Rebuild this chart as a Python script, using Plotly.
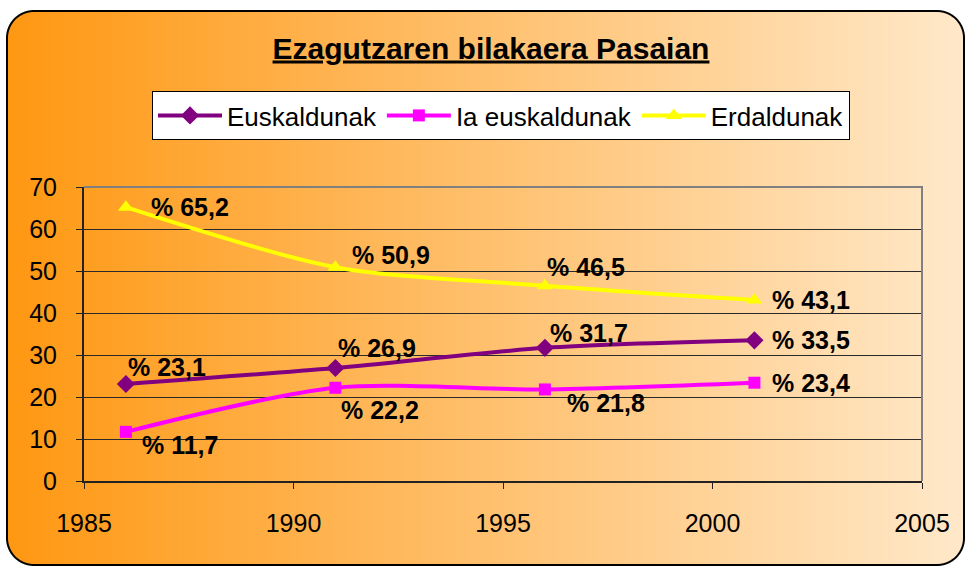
import base64
import struct
import zlib

import numpy as np
import plotly.graph_objects as go

# ---------------- data ----------------
years = [1986, 1991, 1996, 2001]
euskaldunak = [23.1, 26.9, 31.7, 33.5]
ia_euskaldunak = [11.7, 22.2, 21.8, 23.4]
erdaldunak = [65.2, 50.9, 46.5, 43.1]
series_names = ["Euskaldunak", "Ia euskaldunak", "Erdaldunak"]
title_text = "Ezagutzaren bilakaera Pasaian"
x_ticks = [1985, 1990, 1995, 2000, 2005]
y_ticks = [0, 10, 20, 30, 40, 50, 60, 70]

# label offsets (pixels) per series, per point (style only)
label_dx = {
    "Euskaldunak": [0, 1, 3, 16],
    "Ia euskaldunak": [14, 4, 20, 16],
    "Erdaldunak": [23, 15, 0, 16],
}
label_dy = {
    "Euskaldunak": [17, 20, 15, 0],
    "Ia euskaldunak": [-13, -22, -14, 0],
    "Erdaldunak": [0, 12, 19, 0],
}

# ---------------- geometry ----------------
W, H = 965, 566
ML, MR, MT, MB = 84, 43, 187, 85
PW, PH = W - ML - MR, H - MT - MB

FONT = "Arial, 'Liberation Sans', sans-serif"


# ---------------- background gradient (rounded box) ----------------
def make_png(rgba):
    h, w, _ = rgba.shape
    raw = b"".join(b"\x00" + rgba[i].tobytes() for i in range(h))

    def chunk(t, d):
        c = struct.pack(">I", len(d)) + t + d
        return c + struct.pack(">I", zlib.crc32(t + d) & 0xFFFFFFFF)

    return (b"\x89PNG\r\n\x1a\n"
            + chunk(b"IHDR", struct.pack(">IIBBBBB", w, h, 8, 6, 0, 0, 0))
            + chunk(b"IDAT", zlib.compress(raw, 9))
            + chunk(b"IEND", b""))


X, Y = np.meshgrid(np.arange(W) + 0.5, np.arange(H) + 0.5)
x0, y0, x1, y1, rad = 6.0, 10.0, 965.0, 566.0, 28.0
qx = np.abs(X - (x0 + x1) / 2) - ((x1 - x0) / 2 - rad)
qy = np.abs(Y - (y0 + y1) / 2) - ((y1 - y0) / 2 - rad)
d = np.hypot(np.maximum(qx, 0), np.maximum(qy, 0)) + np.minimum(np.maximum(qx, qy), 0) - rad
outer = np.clip(0.5 - d, 0, 1)
inner = np.clip(-2.0 - d + 0.5, 0, 1)
t = np.clip((X - 6) / (W - 6), 0, 1)
c0 = np.array([255, 152, 18], dtype=float)
c1 = np.array([255, 233, 202], dtype=float)
grad = c0[None, None, :] * (1 - t[..., None]) + c1[None, None, :] * t[..., None]
rgb = grad * inner[..., None] / np.maximum(outer[..., None], 1e-6)
rgba = np.zeros((H, W, 4), dtype=np.uint8)
rgba[..., :3] = np.clip(rgb, 0, 255).astype(np.uint8)
rgba[..., 3] = (outer * 255).astype(np.uint8)
bg_uri = "data:image/png;base64," + base64.b64encode(make_png(rgba)).decode()

# ---------------- figure ----------------
fig = go.Figure()

styles = [
    (euskaldunak, "#800080", "diamond", 14),
    (ia_euskaldunak, "#FF00FF", "square", 12),
    (erdaldunak, "#FFFF00", "triangle-up", 14),
]
for name, (vals, col, sym, size) in zip(series_names, styles):
    fig.add_trace(go.Scatter(
        x=years, y=vals, name=name, mode="lines+markers",
        line=dict(color=col, width=4, shape="spline", smoothing=0.8),
        marker=dict(color=col, symbol=sym, size=size, line=dict(width=0)),
    ))

annotations = []
for name, vals in zip(series_names, [euskaldunak, ia_euskaldunak, erdaldunak]):
    for i, (xv, yv) in enumerate(zip(years, vals)):
        annotations.append(dict(
            x=xv, y=yv, xref="x", yref="y",
            text="% " + f"{yv:.1f}".replace(".", ","),
            showarrow=False, xanchor="left", yanchor="middle",
            xshift=label_dx[name][i], yshift=label_dy[name][i],
            font=dict(family=FONT, size=25, color="black", weight="bold"),
        ))

fig.update_layout(
    width=W, height=H,
    margin=dict(l=ML, r=MR, t=MT, b=MB, autoexpand=False),
    paper_bgcolor="white",
    plot_bgcolor="#C0C0C0",
    font=dict(family=FONT, size=25, color="black"),
    title=dict(
        text=title_text, x=491 / W, xref="container", xanchor="center",
        y=1 - 48 / H, yref="container", yanchor="middle",
        font=dict(family=FONT, size=30, color="black", weight="bold", lineposition="under"),
    ),
    legend=dict(
        orientation="h", x=(501 - ML) / PW, xanchor="center",
        y=1 + (MT - 91) / PH, yanchor="top",
        bgcolor="white", bordercolor="black", borderwidth=1,
        font=dict(family=FONT, size=26, color="black"),
        itemwidth=64, tracegroupgap=0,
    ),
    showlegend=True,
    annotations=annotations,
    images=[dict(
        source=bg_uri, xref="paper", yref="paper",
        x=-ML / PW, y=1 + MT / PH, sizex=W / PW, sizey=H / PH,
        xanchor="left", yanchor="top", sizing="stretch", layer="below",
    )],
    shapes=[dict(
        type="path", xref="paper", yref="paper",
        path="M 0 1 L 1 1 L 1 0", line=dict(color="#808080", width=2),
        layer="above",
    )],
)

fig.update_xaxes(
    range=[1985, 2005], tickvals=x_ticks, ticktext=[str(v) for v in x_ticks],
    showgrid=False, zeroline=False,
    showline=True, linecolor="#222222", linewidth=2,
    ticks="outside", ticklen=6, tickwidth=1, tickcolor="#222222",
    ticklabelstandoff=13,
    tickfont=dict(family=FONT, size=25, color="black"),
)
fig.update_yaxes(
    range=[0, 70], tickvals=y_ticks,
    showgrid=True, gridcolor="#2a2a2a", gridwidth=1, zeroline=False,
    showline=True, linecolor="#222222", linewidth=2,
    ticks="outside", ticklen=6, tickwidth=1, tickcolor="#222222",
    ticklabelstandoff=14,
    tickfont=dict(family=FONT, size=25, color="black"),
)

fig.write_html(
    "out.html",
    config={"displayModeBar": False},
    post_script="document.body.style.margin='0';",
)
